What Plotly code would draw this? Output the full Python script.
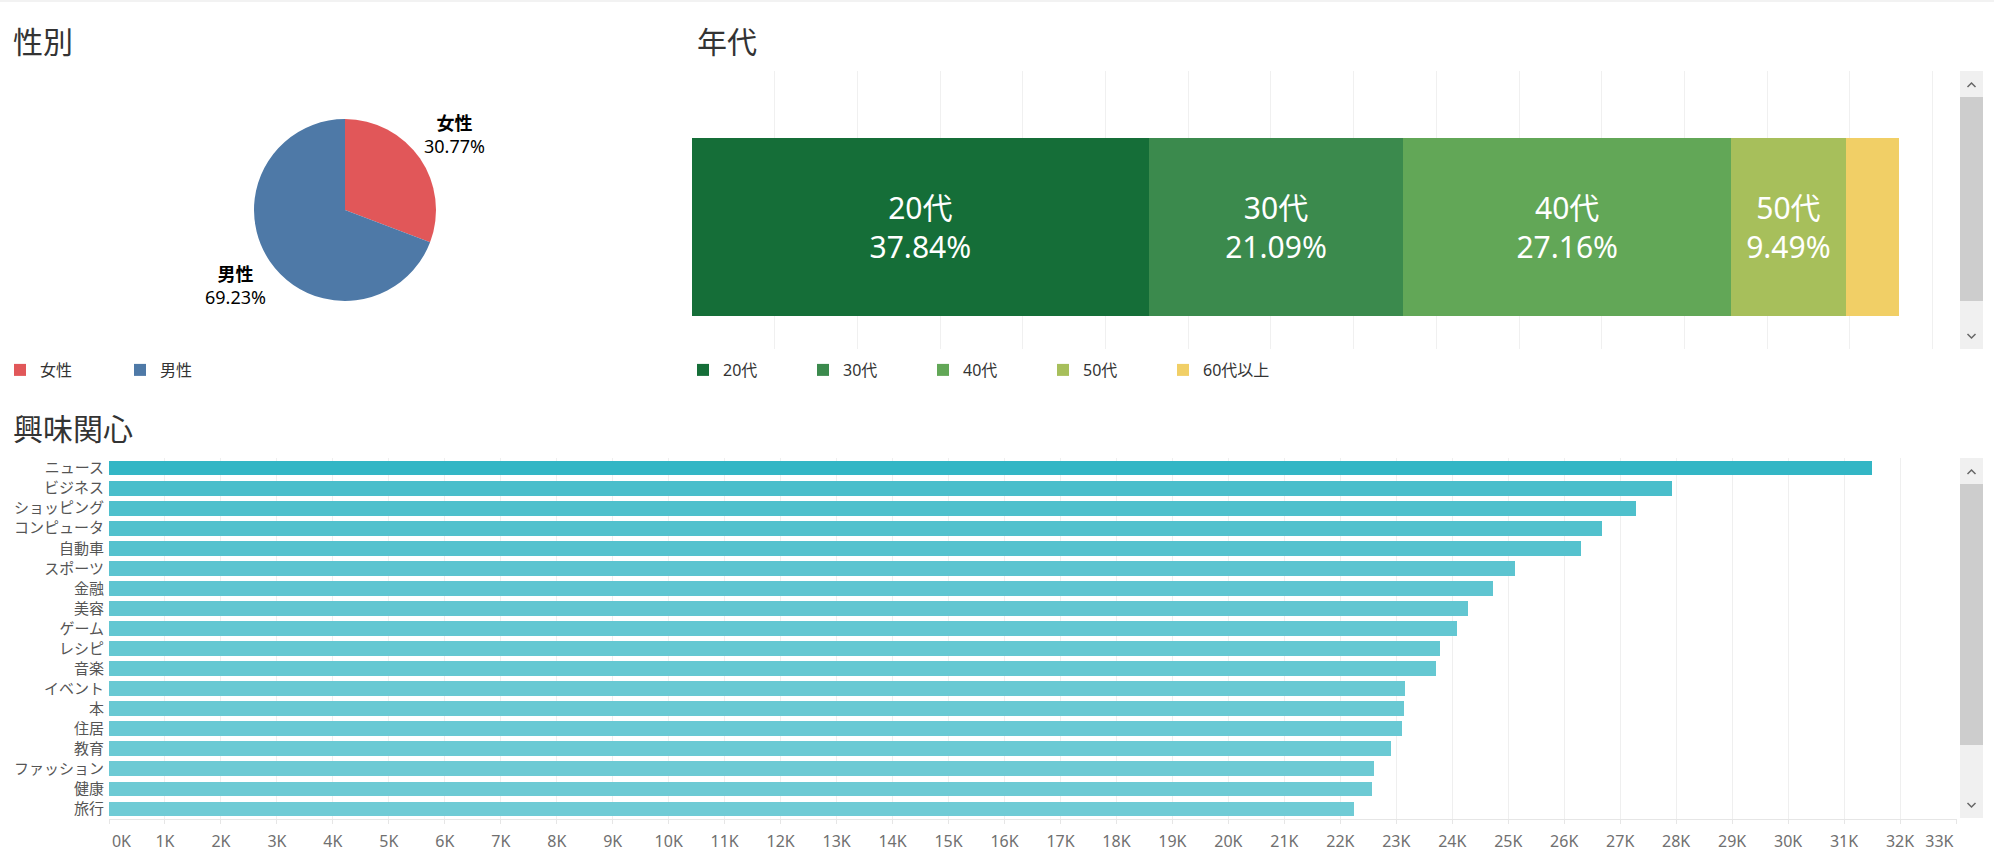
import math
import plotly.graph_objects as go

# ---- data ----
gender_labels = ["女性", "男性"]
gender_share = [30.77, 69.23]

age_labels = ["20代", "30代", "40代", "50代", "60代以上"]
age_share = [37.84, 21.09, 27.16, 9.49, 4.42]

interest_labels = ["ニュース", "ビジネス", "ショッピング", "コンピュータ", "自動車", "スポーツ",
                   "金融", "美容", "ゲーム", "レシピ", "音楽", "イベント", "本", "住居",
                   "教育", "ファッション", "健康", "旅行"]
interest_counts = [31490, 27930, 27280, 26670, 26300, 25120, 24730, 24280, 24080,
                   23780, 23710, 23150, 23140, 23100, 22900, 22600, 22560, 22240]

x_ticks = list(range(0, 34000, 1000))
x_tick_labels = [f"{v // 1000}K" for v in x_ticks]
# first / last labels sit inside the axis ends, as in the original
NBSP = "\u00a0"
x_tick_labels[0] = NBSP * 6 + x_tick_labels[0]
x_tick_labels[-1] = x_tick_labels[-1] + NBSP * 8

gender_colors = ["#e15759", "#4e79a7"]
age_colors = ["#156e38", "#3b8a4d", "#62a757", "#a7bf5b", "#f1cf66"]

W, H = 1994, 865
FONT = "Noto Sans, Noto Sans CJK JP, sans-serif"


def px(x):
    return x / W


def py(y):
    return 1 - y / H


fig = go.Figure()

# gender pie
PIE_CX, PIE_CY, PIE_R = 345, 210, 91
fig.add_trace(go.Pie(
    labels=gender_labels, values=gender_share,
    marker=dict(colors=gender_colors),
    sort=False, direction="clockwise", rotation=0,
    textinfo="none",
    domain=dict(x=[px(PIE_CX - PIE_R), px(PIE_CX + PIE_R)],
                y=[py(PIE_CY + PIE_R), py(PIE_CY - PIE_R)]),
    legend="legend", hoverinfo="label+percent",
))

# age stacked bar
for name, share, col in zip(age_labels, age_share, age_colors):
    fig.add_trace(go.Bar(
        x=[share], y=[0], width=[1], orientation="h", name=name,
        marker=dict(color=col, line=dict(width=0)),
        text=[f"{name}<br>{share:.2f}%" if share > 5 else ""],
        textposition="inside", insidetextanchor="middle", textangle=0,
        textfont=dict(size=30, color="white", family=FONT),
        xaxis="x", yaxis="y", legend="legend2",
    ))

# interests bar
fig.add_trace(go.Bar(
    x=interest_counts, y=interest_labels, orientation="h",
    marker=dict(color=interest_counts, cmin=min(interest_counts), cmax=max(interest_counts),
                colorscale=[[0, "#6fcbd5"], [1, "#33b6c5"]], line=dict(width=0)),
    xaxis="x2", yaxis="y2", showlegend=False,
))

shapes = [dict(type="rect", xref="paper", yref="paper", x0=0, x1=1, y0=py(2), y1=1,
               fillcolor="#f2f2f2", line=dict(width=0), layer="below")]


def scrollbar(top, bottom, thumb_top, thumb_bottom):
    out = [
        dict(type="rect", xref="paper", yref="paper", x0=px(1960), x1=px(1983),
             y0=py(bottom), y1=py(top), fillcolor="#f0f0f0", line=dict(width=0)),
        dict(type="rect", xref="paper", yref="paper", x0=px(1960), x1=px(1983),
             y0=py(thumb_bottom), y1=py(thumb_top), fillcolor="#cdcdcd", line=dict(width=0)),
    ]
    cx = 1971.5
    up = top + 14
    dn = bottom - 13
    out.append(dict(type="path", xref="paper", yref="paper",
                    path=f"M {px(cx - 4)},{py(up + 2)} L {px(cx)},{py(up - 2)} L {px(cx + 4)},{py(up + 2)}",
                    line=dict(color="#666666", width=1.5)))
    out.append(dict(type="path", xref="paper", yref="paper",
                    path=f"M {px(cx - 4)},{py(dn - 2)} L {px(cx)},{py(dn + 2)} L {px(cx + 4)},{py(dn - 2)}",
                    line=dict(color="#666666", width=1.5)))
    return out


shapes += scrollbar(71, 349, 97, 301)
shapes += scrollbar(458, 818, 484, 745)

titles = [("性別", 11, 41), ("年代", 695, 41), ("興味関心", 11, 428)]
annotations = [dict(text=t, xref="paper", yref="paper", x=px(x), y=py(y),
                    xanchor="left", yanchor="middle", showarrow=False,
                    font=dict(size=30, color="#333333", family=FONT))
               for t, x, y in titles]

# pie labels outside each slice, at the slice mid-angle
total = sum(gender_share)
start = 0.0
for lab, val in zip(gender_labels, gender_share):
    mid = (start + val / 2) / total * 2 * math.pi
    start += val
    lx = PIE_CX + 133 * math.sin(mid)
    ly = PIE_CY - 133 * math.cos(mid)
    annotations.append(dict(
        text=f"<b>{lab}</b><br>{val / total:.2%}", xref="paper", yref="paper",
        x=px(lx), y=py(ly), xanchor="center", yanchor="middle", showarrow=False,
        font=dict(size=18, color="#000000", family=FONT)))

age_px_per_pct = (1899 - 692) / 100.0

fig.update_layout(
    width=W, height=H, margin=dict(l=0, r=0, t=0, b=0, autoexpand=False),
    paper_bgcolor="white", plot_bgcolor="white",
    barmode="stack", bargap=0.26,
    font=dict(family=FONT, color="#333333"),
    xaxis=dict(domain=[px(692), px(1950)], range=[0, (1950 - 692) / age_px_per_pct],
               dtick=82.7 / age_px_per_pct, tick0=0, showticklabels=False,
               showgrid=True, gridcolor="#f0f0f0", zeroline=False, fixedrange=True,
               automargin=False),
    yaxis=dict(domain=[py(349), py(71)], range=[-0.6854, 0.8764], visible=False,
               fixedrange=True, automargin=False),
    xaxis2=dict(domain=[px(109), px(1957)], range=[0, (1957 - 109) / 55.97 * 1000],
                anchor="y2", tickvals=x_ticks, ticktext=x_tick_labels,
                showgrid=True, gridcolor="#efefef", zeroline=False,
                showline=True, linecolor="#e6e6e6", ticks="outside", ticklen=4,
                tickcolor="#e6e6e6", ticklabelstandoff=4, automargin=False,
                tickfont=dict(size=16, color="#707070", family=FONT)),
    yaxis2=dict(domain=[py(819), py(458)], anchor="x2", autorange="reversed",
                type="category", showgrid=False, ticks="", ticklabelstandoff=4,
                automargin=False,
                tickfont=dict(size=15, color="#555555", family=FONT)),
    legend=dict(orientation="h", x=0, xanchor="left", y=py(370), yanchor="middle",
                font=dict(size=16, color="#333333", family=FONT), traceorder="normal",
                entrywidth=75, bgcolor="rgba(0,0,0,0)"),
    legend2=dict(orientation="h", x=px(683), xanchor="left", y=py(370), yanchor="middle",
                 font=dict(size=16, color="#333333", family=FONT),
                 entrywidth=75, bgcolor="rgba(0,0,0,0)", traceorder="normal"),
    shapes=shapes, annotations=annotations,
)

fig.write_html(
    "out.html",
    config={"displayModeBar": False},
    post_script="document.documentElement.style.margin='0';"
                "document.body.style.margin='0';"
                "document.body.style.overflow='hidden';",
)
